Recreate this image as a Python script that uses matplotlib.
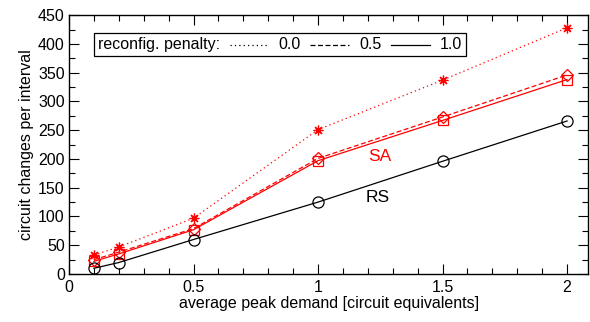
import matplotlib
matplotlib.use('Agg')
import matplotlib.pyplot as plt
from matplotlib.lines import Line2D
from matplotlib.offsetbox import TextArea, DrawingArea, HPacker, AnchoredOffsetbox
from matplotlib.ticker import MultipleLocator

plt.rcParams['font.family'] = ['Liberation Sans', 'DejaVu Sans']
plt.rcParams['font.size'] = 11.5

# data
demand = [0.1, 0.2, 0.5, 1.0, 1.5, 2.0]
rs = [10, 20, 60, 125, 196, 266]
sa_10 = [22, 35, 77, 197, 267, 338]
sa_05 = [25, 38, 79, 201, 273, 346]
sa_00 = [33, 47, 97, 251, 337, 428]
penalties = ['0.0', '0.5', '1.0']

fig = plt.figure(figsize=(5.9, 3.22), dpi=100)
ax = fig.add_axes([0.117, 0.149, 0.880, 0.804])

ax.plot(demand, sa_00, color='red', linestyle=(0, (1, 2.5)), linewidth=0.9,
        marker=(8, 2, 0), markersize=7, markeredgewidth=0.9)
ax.plot(demand, sa_05, color='red', linestyle=(0, (4, 2)), linewidth=0.9,
        marker='D', markersize=6.5, markerfacecolor='none', markeredgewidth=0.9)
ax.plot(demand, sa_10, color='red', linestyle='-', linewidth=0.9,
        marker='s', markersize=6.5, markerfacecolor='none', markeredgewidth=0.9)
ax.plot(demand, rs, color='black', linestyle='-', linewidth=0.9,
        marker='o', markersize=8, markerfacecolor='none', markeredgewidth=0.9)

ax.text(1.25, 205, 'SA', color='red', fontsize=12.5, ha='center', va='center')
ax.text(1.24, 133, 'RS', color='black', fontsize=12.5, ha='center', va='center')

ax.set_xlim(0, 2.085)
ax.set_ylim(0, 450)
ax.xaxis.set_major_locator(MultipleLocator(0.5))
ax.xaxis.set_minor_locator(MultipleLocator(0.1))
ax.yaxis.set_major_locator(MultipleLocator(50))
ax.yaxis.set_minor_locator(MultipleLocator(25))
ax.set_xticks([0, 0.5, 1, 1.5, 2])
ax.set_xticklabels(['0', '0.5', '1', '1.5', '2'])
ax.tick_params(which='both', direction='in', top=True, right=True, labelsize=11.5)
ax.tick_params(which='major', length=7, width=0.8)
ax.tick_params(which='minor', length=4, width=0.8)
ax.tick_params(axis='x', pad=4)
ax.tick_params(axis='y', pad=3)
for s in ax.spines.values():
    s.set_linewidth(1.0)

ax.set_xlabel('average peak demand [circuit equivalents]', fontsize=11.5, labelpad=1)
ax.set_ylabel('circuit changes per interval', fontsize=11.5, labelpad=3)

# legend in one row
styles = [(0, (1, 2.5)), (0, (4, 2)), '-']
items = [TextArea('reconfig. penalty:', textprops=dict(fontsize=11.5))]
for st, lab in zip(styles, penalties):
    da = DrawingArea(30, 10, 0, 0)
    da.add_artist(Line2D([1, 29], [5, 5], color='black', linestyle=st, linewidth=0.9))
    items.append(da)
    items.append(TextArea(lab, textprops=dict(fontsize=11.5)))
pack = HPacker(children=items, align='center', pad=0, sep=6)
box = AnchoredOffsetbox(loc='upper left', child=pack, pad=0.25, frameon=True,
                        bbox_to_anchor=(0.048, 0.93), bbox_transform=ax.transAxes,
                        borderpad=0)
box.patch.set_edgecolor('black')
box.patch.set_linewidth(0.9)
box.patch.set_boxstyle('square', pad=0)
ax.add_artist(box)

fig.savefig('out.png', dpi=100)
